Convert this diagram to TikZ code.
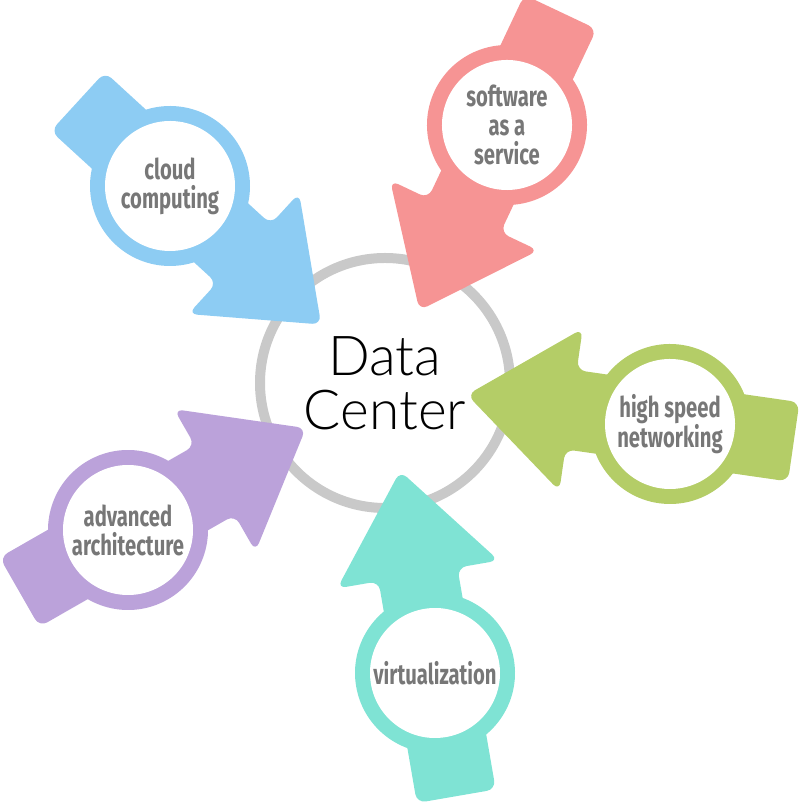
\documentclass[tikz,border=0pt]{standalone}
\usepackage{fontspec}
\setmainfont{Lato}
\newfontfamily\thinfont{Lato Light}
\newfontfamily\labelfont{Fira Sans}[FakeStretch=0.71]
\usepackage{xcolor}
\definecolor{cloudblue}{HTML}{8DCCF3}
\definecolor{saaspink}{HTML}{F69494}
\definecolor{netgreen}{HTML}{B4CD67}
\definecolor{virtteal}{HTML}{7FE3D4}
\definecolor{archpurple}{HTML}{BBA2DA}
\definecolor{ringgray}{HTML}{C9C9C9}
\definecolor{labelgray}{HTML}{777777}
\newcommand{\ringarrow}[5]{% name, centre, angle, colour, text
  \begin{scope}[shift={#2},rotate=#3]
    \fill[#4,rounded corners=9pt] (-125,-40) -- (100,-40) -- (100,-82) -- (205,0)
        -- (100,82) -- (100,40) -- (-125,40) -- cycle;
    \fill[#4] (0,0) circle (80);
    \fill[white] (0,0) circle (65);
  \end{scope}
  \node (#1) at #2 {#5};
}
\begin{document}
\begin{tikzpicture}[x=1pt,y=1pt]
\useasboundingbox (0,0) rectangle (800,803);
\coordinate (hub) at (385,420);
\draw[ringgray,line width=10pt] (hub) circle (125);
\begin{scope}[every node/.style={align=center,inner sep=0pt,text=labelgray,
              font=\labelfont\bfseries\fontsize{28.5}{29}\selectfont}]
    \ringarrow{cloud}{(170,617)}{317.5}{cloudblue}{cloud\\computing}
    \ringarrow{saas}{(507,678)}{244.7}{saaspink}{software\\as a\\service}
    \ringarrow{net}{(670,379)}{171.8}{netgreen}{high speed\\networking}
    \ringarrow{virt}{(435,130)}{99.8}{virtteal}{virtualization}
    \ringarrow{arch}{(128,273)}{29.8}{archpurple}{advanced\\architecture}
\end{scope}
\node[align=center,font=\thinfont\fontsize{55}{54}\selectfont] (dc) at (hub) {Data\\Center};
\end{tikzpicture}
\end{document}
